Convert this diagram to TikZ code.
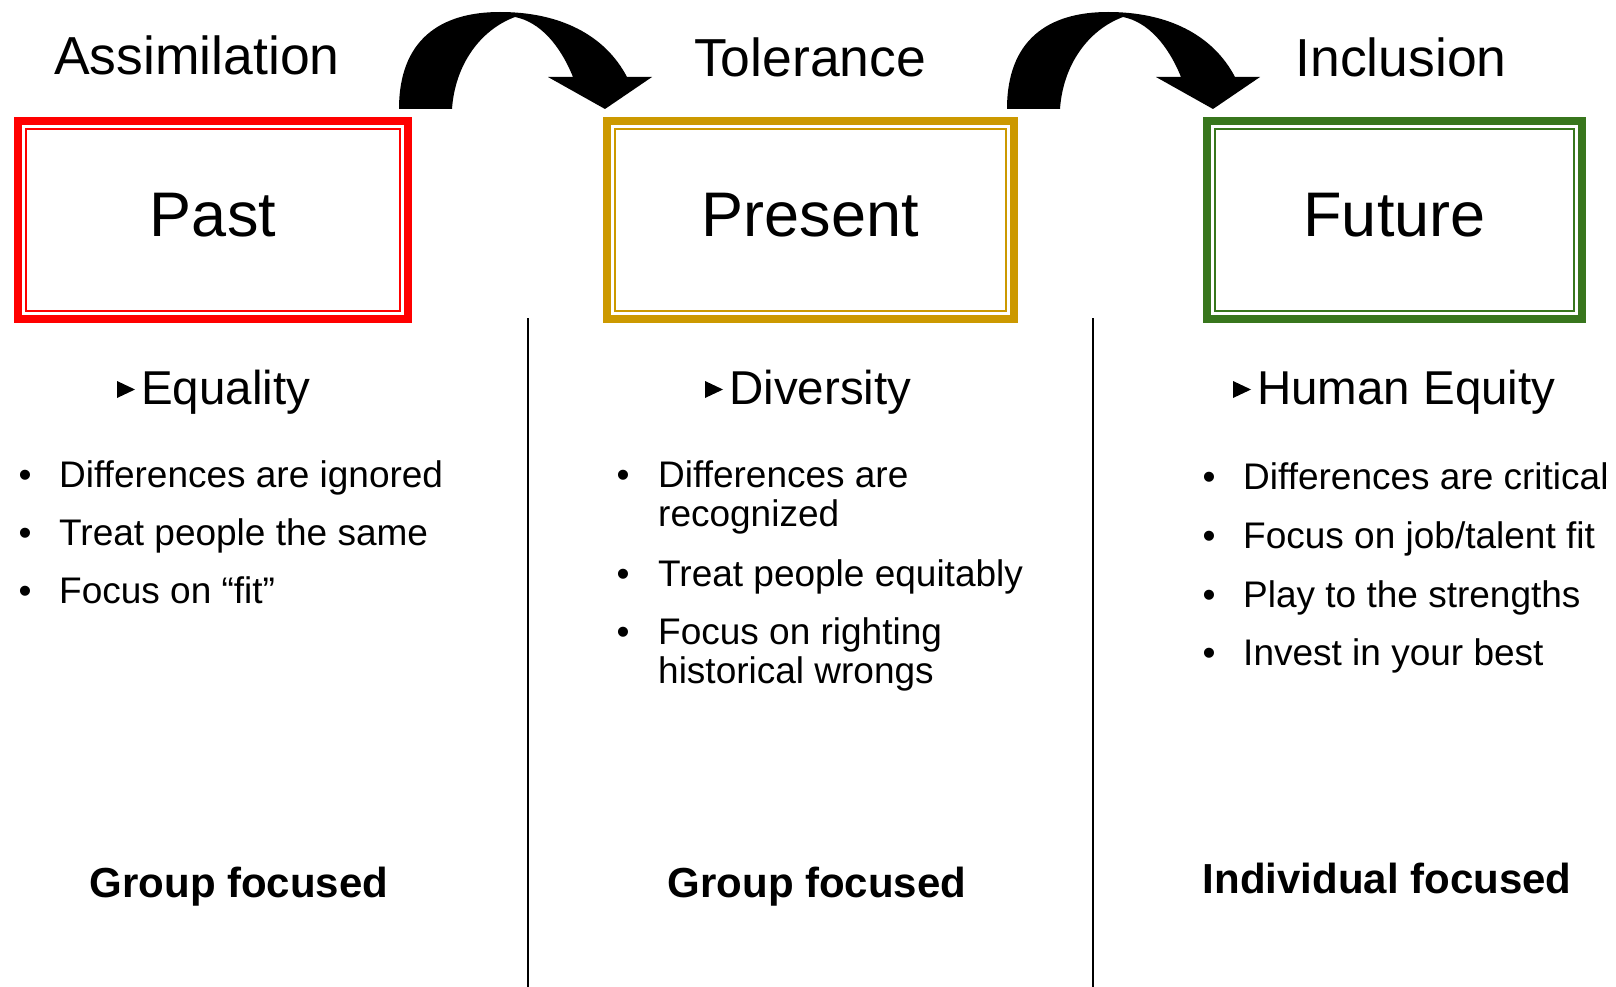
\documentclass[tikz,border=0pt]{standalone}
\usepackage{fontspec}
\setmainfont{Liberation Sans}
\usepackage{tikz}
\usetikzlibrary{positioning}
\definecolor{pastred}{RGB}{255,0,0}
\definecolor{presgold}{RGB}{204,153,0}
\definecolor{futgreen}{RGB}{56,118,29}
\tikzset{title/.style={font=\fontsize{53.5}{60}\selectfont,anchor=base,inner sep=0pt},
  box/.style={draw=#1,line width=8pt,outer sep=0pt,minimum height=198pt,text depth=11pt,font=\fontsize{63}{70}\selectfont},
  inbox/.style={draw=#1,line width=2pt},
  head/.style={font=\fontsize{47.5}{50}\selectfont,anchor=base west,inner sep=0pt},
  item/.style={font=\fontsize{37}{39.5}\selectfont,anchor=base west,align=left,inner sep=0pt},
  dot/.style={font=\fontsize{37}{40}\selectfont,anchor=base,inner sep=0pt},
  focus/.style={font=\fontsize{42}{46}\selectfont\bfseries,anchor=base,inner sep=0pt},
  sep/.style={line width=2pt},
  turn/.style={fill=black}}

\begin{document}
\begin{tikzpicture}[x=1pt,y=-1pt]
        \useasboundingbox (0,0) rectangle (1616,987);

        % headings and bent arrows
        \node[title] (asm) at (197,75) {Assimilation};
        \node[title] (tol) at (810,77) {Tolerance};
        \node[title] (inc) at (1401,77) {Inclusion};
        \foreach \dx in {0,608}
          \fill[turn,xshift=\dx pt] (399,109) -- (452,109) .. controls (455,65) and (480,30) .. (515,17)
            .. controls (540,22) and (560,45) .. (573,77) -- (548,77) -- (605,109) -- (652,77) -- (627,77)
            .. controls (605,35) and (560,12) .. (500,12) .. controls (440,12) and (399,40) .. (399,109) -- cycle;

        % boxes
        \node[box=pastred,minimum width=390pt] (past) at (213,220) {Past};
        \node[box=presgold,minimum width=407pt] (pres) at (810.5,220) {Present};
        \node[box=futgreen,minimum width=375pt] (fut) at (1394.5,220) {Future};
        \draw[inbox=pastred] ([shift={(8,8)}]past.north west) rectangle ([shift={(-8,-8)}]past.south east);
        \draw[inbox=presgold] ([shift={(8,8)}]pres.north west) rectangle ([shift={(-8,-8)}]pres.south east);
        \draw[inbox=futgreen] ([shift={(8,8)}]fut.north west) rectangle ([shift={(-8,-8)}]fut.south east);

        \draw[sep] (528,318) -- (528,987);
        \draw[sep] (1093,318) -- (1093,987);

        % sub headings
        \node[head] (eq) at (141,404) {Equality};
        \node[head] (div) at (729,404) {Diversity};
        \node[head] (heq) at (1257,404) {Human Equity};
        \fill ([shift={(-24,-6)}]eq.base west) -- ++(0,-17) -- ++(18,8.5) -- cycle;
        \fill ([shift={(-24,-6)}]div.base west) -- ++(0,-17) -- ++(18,8.5) -- cycle;
        \fill ([shift={(-24,-6)}]heq.base west) -- ++(0,-17) -- ++(18,8.5) -- cycle;

        % past
        \node[dot] (a1) at (25,487) {•};
        \node[dot] (a2) at (25,545) {•};
        \node[dot] (a3) at (25,603) {•};
        \node[item] (p1) at (59,487) {Differences are ignored};
        \node[item] (p2) at (59,545) {Treat people the same};
        \node[item] (p3) at (59,603) {Focus on “fit”};

        % present (two line items sit on their last line)
        \node[dot] (b1) at (623,487) {•};
        \node[dot] (b2) at (623,586) {•};
        \node[dot] (b3) at (623,644) {•};
        \node[item] (q1) at (658,526.5) {Differences are\\recognized};
        \node[item] (q2) at (658,586) {Treat people equitably};
        \node[item] (q3) at (658,683.5) {Focus on righting\\historical wrongs};

        % future
        \node[dot] (c1) at (1209,489) {•};
        \node[dot] (c2) at (1209,548) {•};
        \node[dot] (c3) at (1209,607) {•};
        \node[dot] (c4) at (1209,665) {•};
        \node[item] (r1) at (1243,489) {Differences are critical};
        \node[item] (r2) at (1243,548) {Focus on job/talent fit};
        \node[item] (r3) at (1243,607) {Play to the strengths};
        \node[item] (r4) at (1243,665) {Invest in your best};

        \node[focus] (g1) at (239,897) {Group focused};
        \node[focus] (g2) at (817,897) {Group focused};
        \node[focus] (g3) at (1387,893) {Individual focused};
    \end{tikzpicture}
\end{document}
